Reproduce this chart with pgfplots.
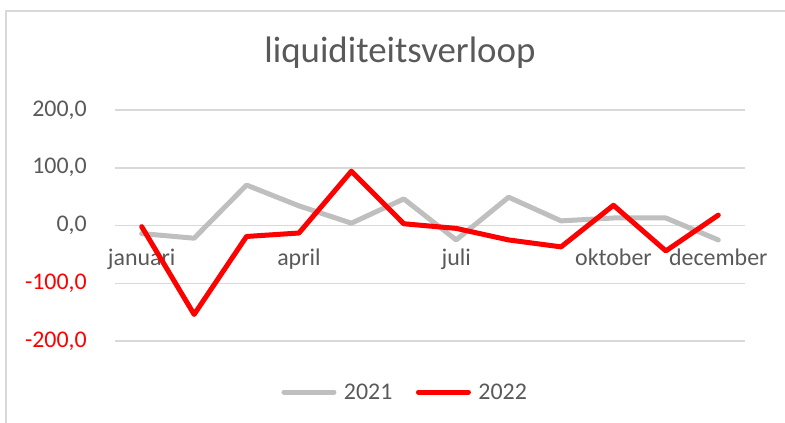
\documentclass[border=0pt]{standalone}
\usepackage{fontspec}
\setmainfont{Carlito}
\usepackage{pgfplots}
\pgfplotsset{compat=1.18}
\definecolor{txt}{HTML}{595959}
\definecolor{gridc}{HTML}{D9D9D9}
\definecolor{g21}{HTML}{BFBFBF}
\definecolor{r22}{HTML}{FF0000}

\begin{document}
\begin{tikzpicture}
\begin{axis}[
  scale only axis, width=629bp, height=231bp,
  xmin=0.5, xmax=12.5, ymin=-200, ymax=200,
  axis line style={draw=none},
  tick style={draw=none},
  ytick={-200,-100,0,100,200},
  yticklabels={{\textcolor{r22}{-200,0}},{\textcolor{r22}{-100,0}},{0,0},{100,0},{200,0}},
  ymajorgrids, grid style={gridc, line width=1.5bp},
  xtick={1,4,7,10,12},
  xticklabels={januari,april,juli,oktober,december},
  xticklabel style={anchor=base, yshift=76bp, inner sep=0pt, font=\fontsize{24}{28}\selectfont, text=txt},
  yticklabel style={anchor=east, inner sep=0pt, xshift=-28.5bp, font=\fontsize{24}{28}\selectfont, text=txt},
  title={liquiditeitsverloop},
  title style={at={(axis description cs:0.4523,1.1818)}, anchor=base, inner sep=0pt, font=\fontsize{37}{44}\selectfont, text=txt},
  legend columns=2,
  legend style={draw=none, fill=none, at={(axis description cs:0.457,-0.221)}, anchor=center,
    font=\fontsize{24}{28}\selectfont, text=txt, nodes={inner sep=0pt},
    /tikz/every odd column/.append style={column sep=5bp},
    /tikz/every even column/.append style={column sep=21bp}},
  legend image code/.code={\path (0bp,0bp) (55bp,0bp);
    \draw[#1, line cap=round] (2.5bp,0bp) -- (52.5bp,0bp);},
]
\addplot[g21, line width=5bp, line join=round, line cap=round] coordinates {
  (1,-14) (2,-22) (3,70) (4,34) (5,4) (6,46) (7,-25) (8,49) (9,8) (10,13) (11,13) (12,-25)};
\addlegendentry{2021}
\addplot[r22, line width=5bp, line join=round, line cap=round] coordinates {
  (1,-2) (2,-154) (3,-19) (4,-13) (5,94) (6,3) (7,-5) (8,-25) (9,-37) (10,35) (11,-44) (12,18)};
\addlegendentry{2022}
\end{axis}
\draw[gridc, line width=1.5bp] (-109.5bp,-82bp) -- (-109.5bp,330bp) -- (669.5bp,330bp);
\pgfresetboundingbox
\path (-115.5bp,-82bp) rectangle (669.5bp,341bp);
\end{tikzpicture}
\end{document}
